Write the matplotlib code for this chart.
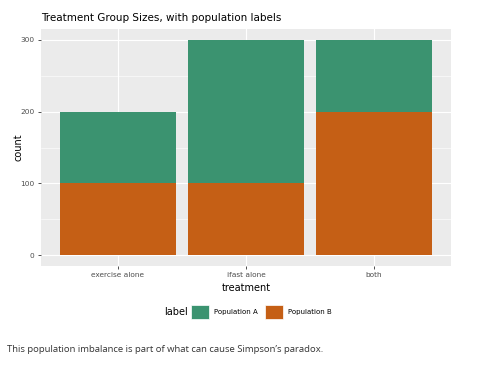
import numpy as np
import matplotlib.pyplot as plt

# data
treatments = ['exercise alone', 'ifast alone', 'both']
pop_a = [100, 200, 100]
pop_b = [100, 100, 200]
labels = ['Population A', 'Population B']
colors = ['#3B9370', '#C55F15']

W, H = 482, 365
fig = plt.figure(figsize=(W / 100, H / 100), dpi=100)

# panel in pixel coords
x0, x1, y0, y1 = 41, 451, 29, 266
ax = fig.add_axes([x0 / W, 1 - y1 / H, (x1 - x0) / W, (y1 - y0) / H])
ax.set_facecolor('#EBEBEB')
for s in ax.spines.values():
    s.set_visible(False)

x = np.arange(1, len(treatments) + 1)
bars_b = ax.bar(x, pop_b, width=0.9, color=colors[1], zorder=3, label=labels[1])
bars_a = ax.bar(x, pop_a, width=0.9, bottom=pop_b, color=colors[0], zorder=3, label=labels[0])

ax.set_xlim(0.4, 3.6)
ax.set_ylim(-15, 315)
ax.set_xticks(x)
ax.set_xticklabels(treatments)
ax.set_yticks([0, 100, 200, 300])
ax.set_yticks([50, 150, 250], minor=True)
ax.grid(True, which='major', color='white', linewidth=0.8, zorder=0)
ax.grid(True, which='minor', axis='y', color='white', linewidth=0.4, zorder=0)
ax.set_axisbelow(True)
ax.tick_params(which='major', length=2.5, width=0.6, color='#333333',
               labelsize=5.3, labelcolor='#4D4D4D', pad=2)
ax.tick_params(which='minor', length=0)

ax.set_xlabel('treatment', fontsize=7, color='black')
ax.set_ylabel('count', fontsize=7, color='black')
ax.yaxis.set_label_coords((23 - x0) / (x1 - x0), 0.5)
ax.xaxis.set_label_coords(0.5, (y1 - 283) / (y1 - y0))

fig.text(41 / W, 1 - 18 / H, 'Treatment Group Sizes, with population labels',
         fontsize=7.5, color='black', va='center', ha='left')

# legend
fig.text(176 / W, 1 - 312 / H, 'label', fontsize=7, va='center', ha='center')
leg = fig.legend([bars_a, bars_b], labels, ncol=2, frameon=False, fontsize=5,
                 loc='center left', bbox_to_anchor=(191 / W, 1 - 312 / H),
                 handlelength=2.6, handleheight=2.6, columnspacing=1.0,
                 handletextpad=0.7, borderaxespad=0, borderpad=0)
for p in leg.get_patches():
    p.set_edgecolor('white')
    p.set_linewidth(0.5)

fig.text(7 / W, 1 - 349 / H,
         'This population imbalance is part of what can cause Simpson\u2019s paradox.',
         fontsize=6.8, family='Open Sans', color='#333333', va='center', ha='left')

fig.savefig('out.png', dpi=100)
